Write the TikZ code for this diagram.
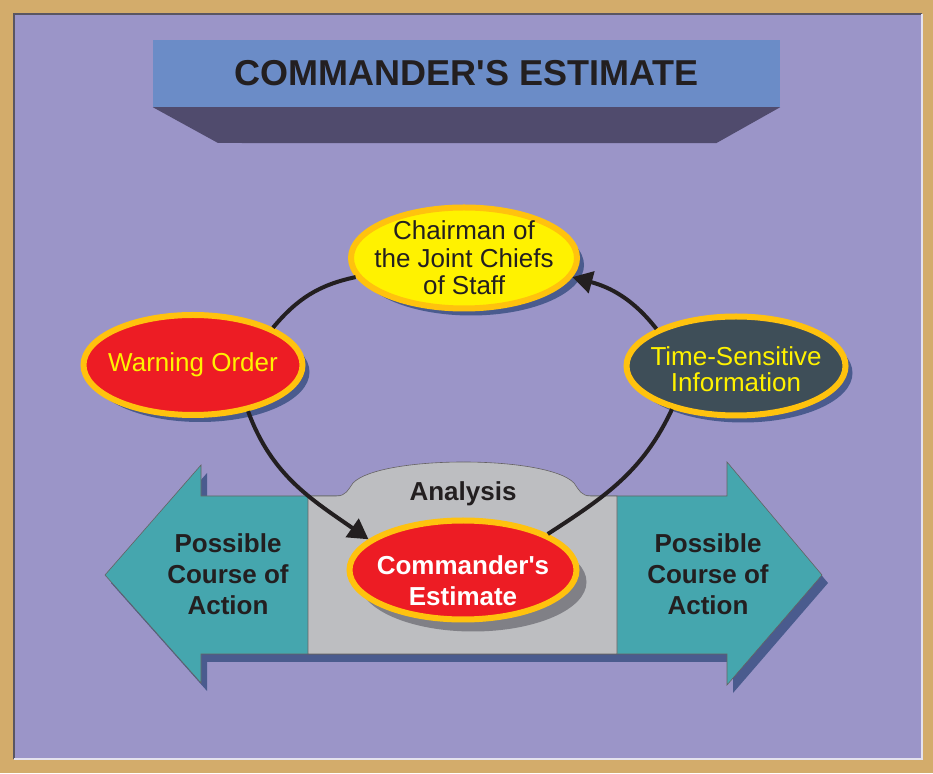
\documentclass[tikz,border=0pt]{standalone}
\usepackage{fontspec}
\setmainfont{Liberation Sans}
\usetikzlibrary{shapes.geometric, arrows.meta, shadows}

\definecolor{frametan}{HTML}{D3AC6B}
\definecolor{bgpurple}{HTML}{9B95C8}
\definecolor{framedark}{HTML}{5A5662}
\definecolor{framelight}{HTML}{E4E2EE}
\definecolor{bannerblue}{HTML}{6B8CC7}
\definecolor{bannerdark}{HTML}{504B6D}
\definecolor{ringgold}{HTML}{FFC20E}
\definecolor{chairyellow}{HTML}{FFF200}
\definecolor{warnred}{HTML}{ED1C24}
\definecolor{slate}{HTML}{3E4E58}
\definecolor{shadowblue}{HTML}{4A5B8E}
\definecolor{shadowgray}{HTML}{808086}
\definecolor{actionteal}{HTML}{45A6AE}
\definecolor{boxgray}{HTML}{BDBEC1}
\definecolor{inkdark}{HTML}{231F20}

\begin{document}
\begin{tikzpicture}[
				x=1pt, y=1pt,
				every node/.style={font=\fontsize{26}{27.5}\selectfont, text=inkdark, align=center},
				banner/.style={rectangle, fill=bannerblue, minimum width=627pt, minimum height=67pt, inner sep=0pt, font=\bfseries\fontsize{36}{40}\selectfont},
				ring/.style={ellipse, draw=ringgold, line width=6pt, inner sep=0pt, minimum width=226pt, minimum height=100pt},
				blueshadow/.style={drop shadow={shadow xshift=7pt, shadow yshift=-7pt, fill=shadowblue, opacity=1}},
				grayshadow/.style={drop shadow={shadow xshift=10pt, shadow yshift=-12pt, fill=shadowgray, opacity=1}},
				yellowtext/.style={text=chairyellow},
				boldtext/.style={font=\bfseries\fontsize{26}{31}\selectfont},
				link/.style={line width=4pt, draw=inkdark},
				arrow/.style={link, -{Triangle[length=20pt, width=22pt]}}
				]
				\useasboundingbox (0,0) rectangle (933,773);
				% Frame
				\fill[frametan] (0,0) rectangle (933,773);
				\fill[bgpurple] (14,14) rectangle (922,759);
				\draw[framedark, line width=1.5pt] (14,14) -- (14,759) -- (922,759);
				\draw[framelight, line width=1.5pt] (14,14) -- (922,14) -- (922,759);
				
				% Title
				\node (title) [banner] at (466.5,699.5) {COMMANDER\textquotesingle S ESTIMATE};
				\fill[bannerdark] (title.south west) -- (title.south east) -- ++(-64,-36) -- (218,630) -- cycle;
				
				% Action arrows and analysis box
				\fill[shadowblue] (111,190) -- (207,300) -- (207,269) -- (733,269) -- (733,303) -- (828,190) -- (733,80) -- (733,111) -- (207,111) -- (207,82) -- cycle;
				\draw[fill=actionteal, draw=inkdark!70, line width=0.6pt] (105,198) -- (201,308) -- (201,277) -- (727,277) -- (727,311) -- (822,198) -- (727,88) -- (727,119) -- (201,119) -- (201,90) -- cycle;
				\draw[fill=boxgray, draw=inkdark!70, line width=0.6pt] (308,119) -- (308,277) -- (336,277) .. controls (346,277) and (348,283) .. (353,290) .. controls (380,318) and (547,318) .. (574,290) .. controls (579,283) and (581,277) .. (591,277) -- (617,277) -- (617,119) -- cycle;
				\node (leftcoa) [boldtext] at (228,199) {Possible\\Course of\\Action};
				\node (rightcoa) [boldtext] at (708,199) {Possible\\Course of\\Action};
				\node (analysis) [boldtext] at (463,279) {Analysis};
				
				% Nodes
				\node (chair) [ring, blueshadow, fill=chairyellow, minimum height=101pt] at (464,515) {};
				\node (warn) [ring, blueshadow, fill=warnred, minimum width=219pt] at (193,408) {};
				\node (tsi) [ring, blueshadow, fill=slate, minimum width=219pt, minimum height=99pt] at (736,407) {};
				\node (cmd) [ring, grayshadow, fill=warnred, minimum width=227pt, minimum height=99pt] at (463,203) {};
				\node at (chair) {Chairman of\\the Joint Chiefs\\of Staff};
				\node [yellowtext] at (warn) {Warning Order};
				\node [yellowtext, font=\fontsize{26}{26}\selectfont] at ([yshift=-3pt]tsi.center) {Time-Sensitive\\Information};
				\node [boldtext, text=white] at ([yshift=-11pt]cmd.center) {Commander\textquotesingle s\\Estimate};
				
				% Arrows
				\draw [link] (chair.190) to[out=192, in=50] (warn.25);
				\draw [arrow] (warn.-40) to[out=290, in=145] (cmd.162);
				\draw [link] (cmd.23) to[out=33, in=245] (tsi.214);
				\draw [arrow] (tsi.155) to[out=128, in=-15] (chair.-10);
			\end{tikzpicture}
\end{document}
